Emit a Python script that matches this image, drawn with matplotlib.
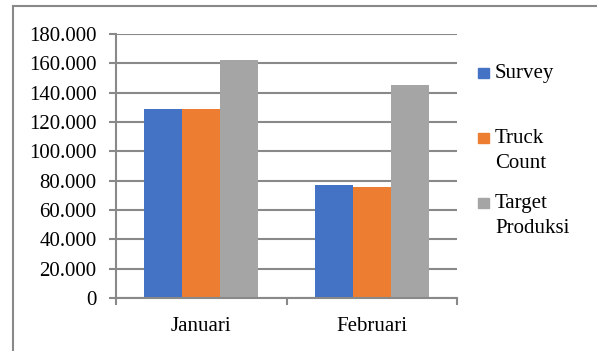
import matplotlib
matplotlib.use("Agg")
import matplotlib.pyplot as plt
from matplotlib.patches import Rectangle
from matplotlib.lines import Line2D
import numpy as np

categories = ["Januari", "Februari"]
series_names = ["Survey", "Truck\nCount", "Target\nProduksi"]
survey = [129000, 77000]
truck_count = [129000, 76000]
target_produksi = [162000, 145000]
colors = ["#4472C4", "#ED7D31", "#A5A5A5"]
yticks = list(range(0, 180001, 20000))
ytick_labels = ["0" if v == 0 else f"{v // 1000}.000" for v in yticks]

plt.rcParams['font.family'] = ['Liberation Serif', 'DejaVu Serif']
grid_c = "#898989"
fs = 15

fig = plt.figure(figsize=(5.97, 3.51), dpi=100)
ax = fig.add_axes([116/597, 1-298/351, (457-116)/597, (298-34)/351])

x = np.arange(len(categories))
w = 1/4.5
data = [survey, truck_count, target_produksi]
for i, (vals, c) in enumerate(zip(data, colors)):
    ax.bar(x + (i-1)*w, vals, width=w, color=c, zorder=3)

ax.set_xlim(-0.5, len(categories)-0.5)
ax.set_ylim(0, 180000)
ax.set_yticks(yticks)
ax.set_yticklabels(ytick_labels, fontsize=fs)
ax.set_xticks(x)
ax.set_xticklabels(categories, fontsize=fs)
ax.set_xticks(np.arange(-0.5, len(categories), 1.0), minor=True)
ax.tick_params(axis='x', which='major', length=0, pad=14)
ax.tick_params(axis='x', which='minor', length=5, width=1.5, color=grid_c)
ax.tick_params(axis='y', length=5, width=1.5, color=grid_c, pad=9)
ax.yaxis.grid(True, color=grid_c, lw=1.5, zorder=0)
for s in ['top', 'right']:
    ax.spines[s].set_visible(False)
for s in ['left', 'bottom']:
    ax.spines[s].set_color(grid_c)
    ax.spines[s].set_linewidth(1.5)
    ax.spines[s].set_zorder(4)

# outer chart border (left and top visible)
fig.add_artist(Line2D([13/597, 13/597], [0, 1-6/351], color=grid_c, lw=1.5, transform=fig.transFigure))
fig.add_artist(Line2D([13/597, 1], [1-6/351, 1-6/351], color=grid_c, lw=1.5, transform=fig.transFigure))

# legend
leg_y = [73, 138, 203]
for name, c, yy in zip(series_names, colors, leg_y):
    fig.add_artist(Rectangle((478/597, 1-(yy+5)/351), 11/597, 10/351, color=c, transform=fig.transFigure))
    fig.text(495/597, 1-(yy-9)/351, name, fontsize=fs, va='top', ha='left', linespacing=1.45)

fig.savefig("out.png", dpi=100)
